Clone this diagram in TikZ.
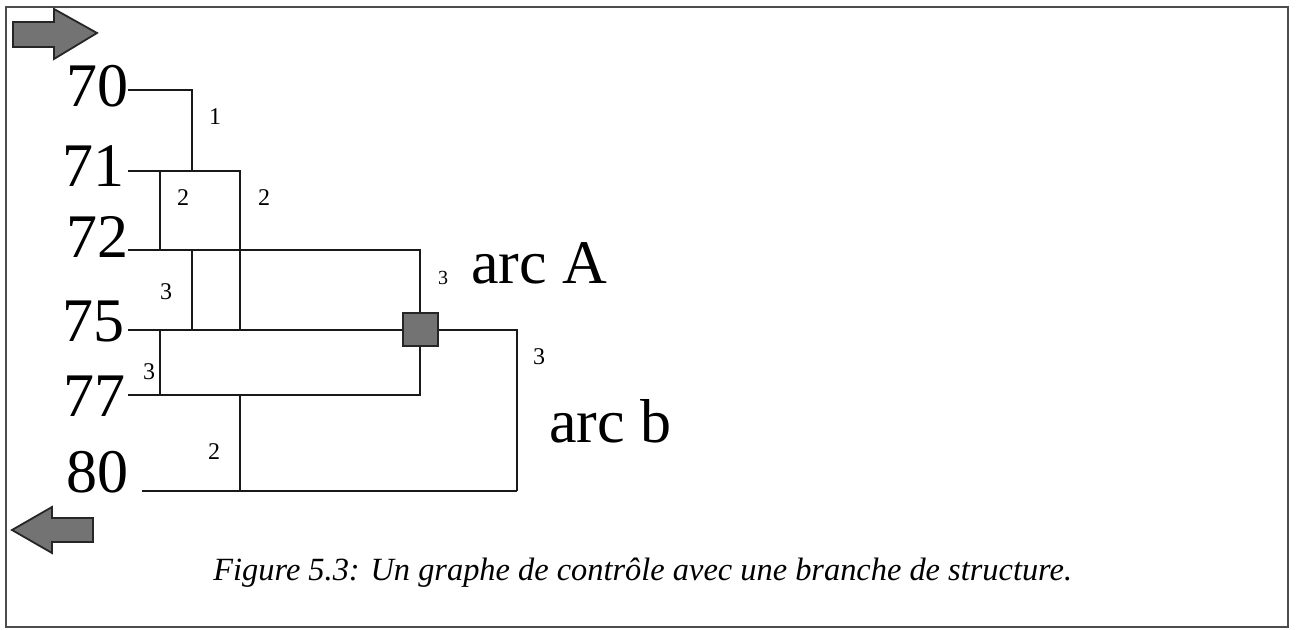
\documentclass[tikz,border=0pt]{standalone}
\usepackage{fontspec}
\setmainfont{Liberation Serif}
\begin{document}
\begin{tikzpicture}[x=0.5pt,y=-0.5pt,
  wire/.style={line width=1pt,black!90},
  big/.style={inner sep=0pt,font=\fontsize{31}{31}\selectfont,anchor=base east},
  arclab/.style={inner sep=0pt,font=\fontsize{31}{31}\selectfont,anchor=base west},
  num/.style={inner sep=0pt,font=\fontsize{12}{12}\selectfont},
  blockarrow/.style={draw=black!85,line width=0.9pt,fill=black!55},
  joint/.style={draw=black!85,line width=1pt,fill=black!55,minimum width=17.5pt,minimum height=16.5pt,inner sep=0pt}]
\useasboundingbox (0,0) rectangle (1296,630);
\draw[black!70,line width=1.1pt] (6,7) rectangle (1288,627);
% block arrows
\draw[blockarrow] (13,22) -- (54,22) -- (54,9) -- (97,33) -- (54,59) -- (54,47) -- (13,47) -- cycle;
\draw[blockarrow] (93,518) -- (52,518) -- (52,507) -- (12,530) -- (52,553) -- (52,542) -- (93,542) -- cycle;
% line labels
\node[big] (l70) at (129,107) {70};
\node[big] (l71) at (125,187) {71};
\node[big] (l72) at (129,258) {72};
\node[big] (l75) at (125,342) {75};
\node[big] (l77) at (126,417) {77};
\node[big] (l80) at (129,493) {80};
% coordinates
\coordinate (a0) at (128,90);
\coordinate (a1) at (192,90);
\coordinate (b0) at (128,171);
\coordinate (b1) at (160,171);
\coordinate (b2) at (192,171);
\coordinate (b3) at (240,171);
\coordinate (c0) at (128,250);
\coordinate (c1) at (160,250);
\coordinate (c2) at (192,250);
\coordinate (c3) at (420,250);
\coordinate (d0) at (128,330);
\coordinate (d1) at (160,330);
\coordinate (d2) at (192,330);
\coordinate (d3) at (240,330);
\coordinate (d5) at (517,330);
\coordinate (e0) at (128,395);
\coordinate (e1) at (160,395);
\coordinate (e2) at (240,395);
\coordinate (e3) at (420,395);
\coordinate (f0) at (142,491);
\coordinate (f1) at (240,491);
\coordinate (f2) at (517,491);
\node[joint] (sq) at (420,330) {};
% connectors
\draw[wire] (a0) -- (a1) -- (b2);
\draw[wire] (b0) -- (b3) -- (d3);
\draw[wire] (b1) -- (c1);
\draw[wire] (c0) -- (c3) -- (sq.north);
\draw[wire] (c2) -- (d2);
\draw[wire] (d0) -- (sq.west);
\draw[wire] (sq.east) -- (d5) -- (f2);
\draw[wire] (d1) -- (e1);
\draw[wire] (sq.south) -- (e3) -- (e0);
\draw[wire] (e2) -- (f1);
\draw[wire] (f0) -- (f2);
% weights
\node[num] (n1) at (215,117) {1};
\node[num] (n2) at (183,198) {2};
\node[num] (n3) at (264,198) {2};
\node[num] (n4) at (166,292) {3};
\node[num] (n5) at (149,372) {3};
\node[num] (n6) at (214,452) {2};
\node[num,font=\fontsize{10}{10}\selectfont] (n7) at (443,278) {3};
\node[num] (n8) at (539,357) {3};
% arc labels
\node[arclab] (arcA) at (471,284) {arc A};
\node[arclab] (arcb) at (549,443) {arc b};
% caption
\node[inner sep=0pt,anchor=base west,font=\fontsize{16.2}{16.2}\selectfont\itshape] (cap) at (213,580) {Figure 5.3: Un graphe de contrôle avec une branche de structure.};
\end{tikzpicture}
\end{document}
